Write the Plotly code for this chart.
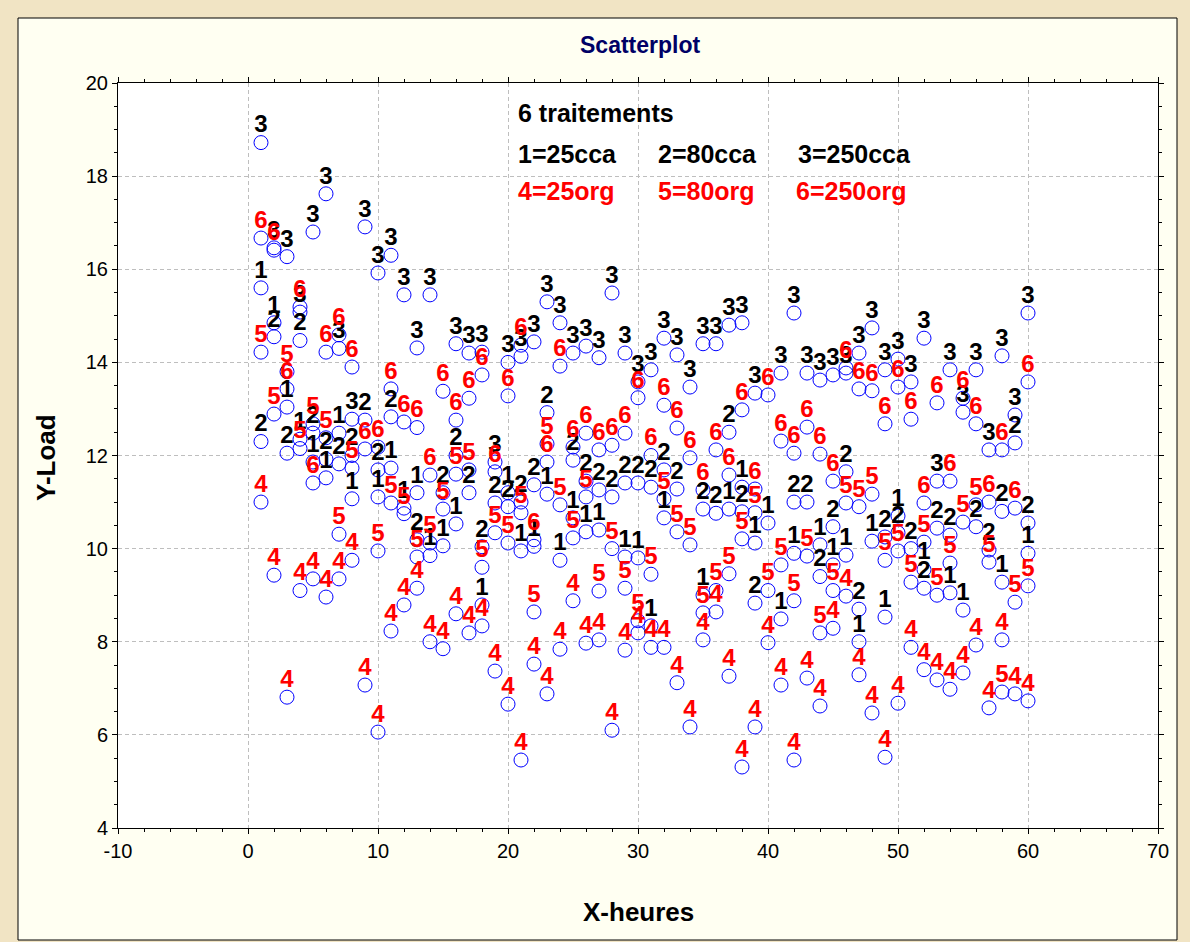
import plotly.graph_objects as go

hours = [1, 2, 3, 4, 5, 6, 7, 8, 9, 10, 11, 12, 13, 14, 15, 16, 17, 18, 19, 20,
         21, 22, 23, 24, 25, 26, 27, 28, 29, 30, 31, 32, 33, 34, 35, 36, 37, 38, 39, 40,
         41, 42, 43, 44, 45, 46, 47, 48, 49, 50, 51, 52, 53, 54, 55, 56, 57, 58, 59, 60]

t1_25cca = [15.6, 14.85, 13.04, 12.35, 11.86, 11.52, 12.48, 11.07, None, 11.11,
            11.73, 10.87, 11.2, 9.85, 10.06, 10.53, None, 8.79, None, 11.2,
            9.95, 10.05, 11.17, 9.75, 10.66, 10.36, 10.4, None, 9.82, 9.8,
            8.34, 10.66, None, None, 9.0, None, 10.85, 11.32, 10.12, 10.55,
            8.49, 9.9, None, 10.08, 9.65, 9.86, 8.0, 10.16, 8.53, 10.7,
            None, 9.55, None, 9.05, 8.68, None, None, 9.28, None, 9.9]

t2_80cca = [12.3, 14.55, 12.05, 14.47, 12.48, 11.92, 11.82, 12.0, 12.76, 11.69,
            12.83, None, 10.19, None, 11.2, 12.0, 11.2, 10.04, 10.98, 10.9,
            11.0, 11.37, 12.92, None, 11.9, 11.45, 11.26, 11.11, 11.41, 11.41,
            11.32, 11.69, 11.28, None, 10.85, 10.76, 12.5, 10.79, 8.83, None,
            None, 11.0, 11.0, 9.4, 10.47, 11.65, 8.7, None, 10.25, 10.34,
            10.0, 9.15, 10.44, 10.29, None, 10.47, 9.97, 10.8, 12.27, 10.55]

t3_250cca = [18.72, 16.46, 16.27, 15.08, 16.8, 17.62, 14.3, 12.78, 16.91, 15.92,
             16.3, 15.45, 14.31, 15.45, None, 14.4, 14.2, 14.22, 11.86, 14.0,
             14.13, 14.44, 15.3, 14.85, 14.2, 14.35, 14.1, 15.49, 14.2, 13.58,
             13.84, 14.52, 14.16, 13.47, 14.4, 14.4, 14.8, 14.85, 13.34, None,
             13.77, 15.06, 13.77, 13.62, 13.73, 13.77, 14.2, 14.74, 13.84, 14.07,
             13.58, 14.52, 11.45, 13.84, 12.93, 13.84, 12.12, 14.14, 12.87, 15.06]

t4_25org = [11.0, 9.43, 6.81, 9.1, 9.35, 8.96, 9.35, 9.75, 7.07, 6.06,
            8.23, 8.79, 9.15, 8.0, 7.85, 8.6, 8.19, 8.34, 7.37, 6.66,
            5.46, 7.52, 6.88, 7.84, 8.88, 7.97, 8.04, 6.1, 7.82, 8.19,
            7.88, 7.88, 7.12, 6.17, 8.04, 8.64, 7.26, 5.31, 6.17, 7.98,
            7.07, 5.46, 7.22, 6.62, 8.29, 8.98, 7.29, 6.47, 5.52, 6.68,
            7.88, 7.4, 7.18, 6.98, 7.33, 7.93, 6.58, 8.04, 6.88, 6.73]

t5_80org = [14.22, 12.89, 13.8, 12.15, 12.68, 12.38, 10.31, 11.73, None, 9.95,
            10.98, 10.75, 9.82, 10.12, 10.85, 11.6, 11.69, 9.6, 10.34, 10.12,
            10.77, 8.64, 12.25, 10.94, 10.23, 11.11, 9.09, 10.0, 9.15, 8.45,
            9.45, 11.07, 10.36, 10.08, 8.62, 9.1, 9.46, 10.21, 10.77, 9.1,
            9.65, 8.88, 9.84, 8.19, 9.1, 10.98, 10.9, 11.17, 9.75, 9.95,
            9.28, 10.14, 9.0, 9.69, 10.57, 10.94, 9.71, 6.92, 8.85, 9.2]

t6_250org = [16.67, 16.41, 13.43, 15.19, 11.41, 14.22, 14.59, 13.9, 12.14, 12.18,
             13.43, 12.72, 12.6, 11.58, 13.38, 12.76, 13.23, 13.73, 11.65, 13.28,
             14.37, 10.19, 11.86, 13.92, 12.18, 12.48, 12.12, 12.22, 12.48, 13.24,
             12.0, 13.08, 12.59, 11.95, 11.26, 12.12, 11.58, 12.98, 11.28, 13.3,
             12.31, 12.05, 12.61, 12.03, 11.45, 13.88, 13.43, 13.39, 12.68, 13.47,
             12.78, 10.98, 13.13, 11.45, 13.23, 12.68, 11.0, 12.12, 10.87, 13.58]

treat_codes = ["1", "2", "3", "4", "5", "6"]
treat_names = ["1=25cca", "2=80cca", "3=250cca", "4=25org", "5=80org", "6=250org"]
treat_series = [t1_25cca, t2_80cca, t3_250cca, t4_25org, t5_80org, t6_250org]
label_colors = ["#000000", "#000000", "#000000", "#FF0000", "#FF0000", "#FF0000"]

x_ticks = [-10, 0, 10, 20, 30, 40, 50, 60, 70]
y_ticks = [4, 6, 8, 10, 12, 14, 16, 18, 20]

FONT = "Arial, Liberation Sans, Helvetica, sans-serif"
BG = "#F1E4C4"

fig = go.Figure()

# circles first
for name, ys in zip(treat_names, treat_series):
    xs = [h for h, v in zip(hours, ys) if v is not None]
    yv = [v for v in ys if v is not None]
    fig.add_trace(go.Scatter(
        x=xs, y=yv, mode="markers", name=name,
        marker=dict(symbol="circle-open", size=14, color="#0000FF",
                    line=dict(width=1, color="#0000FF")),
        hoverinfo="skip", cliponaxis=False,
    ))

# treatment number labels above the circles (transparent marker only sets the gap)
for code, name, ys, col in zip(treat_codes, treat_names, treat_series, label_colors):
    xs = [h for h, v in zip(hours, ys) if v is not None]
    yv = [v for v in ys if v is not None]
    fig.add_trace(go.Scatter(
        x=xs, y=yv, mode="markers+text", name=name + " labels",
        text=[code] * len(xs), textposition="top center",
        marker=dict(size=5, color="rgba(0,0,0,0)"),
        textfont=dict(family=FONT, size=24, color=col, weight="bold"),
        hoverinfo="skip", cliponaxis=False,
    ))

# pixel helpers for the frame (plot area spans 118..1158 px horizontally, 83..828 px vertically)
def px_x(p):
    return (p - 118) / 1040.0

def px_y(p):
    return (828 - p) / 745.0

shapes = [
    dict(type="rect", xref="paper", yref="paper", layer="below",
         x0=px_x(18), x1=px_x(1177), y0=px_y(940), y1=px_y(18),
         fillcolor="#FFFFF2", line=dict(color="#000000", width=1)),
    dict(type="rect", xref="paper", yref="paper", layer="below",
         x0=0, x1=1, y0=0, y1=1, fillcolor="#FFFFFF", line=dict(width=0)),
]

annotations = [
    dict(text="<b>Scatterplot</b>", xref="paper", yref="paper", x=px_x(640), y=px_y(45),
         showarrow=False, font=dict(family=FONT, size=23, color="#000066"),
         xanchor="center", yanchor="middle"),
    dict(text="<b>X-heures</b>", xref="paper", yref="paper", x=px_x(638), y=px_y(912),
         showarrow=False, font=dict(family=FONT, size=26, color="#000000"),
         xanchor="center", yanchor="middle"),
    dict(text="<b>Y-Load</b>", xref="paper", yref="paper", x=px_x(46), y=px_y(458),
         showarrow=False, textangle=-90, font=dict(family=FONT, size=26, color="#000000"),
         xanchor="center", yanchor="middle"),
    dict(text="<b>6 traitements</b>", xref="paper", yref="paper", x=px_x(516), y=px_y(113),
         showarrow=False, font=dict(family=FONT, size=25, color="#000000"),
         xanchor="left", yanchor="middle"),
]
legend_pos = [(516, 154), (656, 154), (796, 154), (516, 191), (656, 191), (794, 191)]
for name, col, (lx, ly) in zip(treat_names, label_colors, legend_pos):
    annotations.append(dict(text="<b>" + name + "</b>", xref="paper", yref="paper",
                            x=px_x(lx), y=px_y(ly), showarrow=False,
                            font=dict(family=FONT, size=25, color=col),
                            xanchor="left", yanchor="middle"))

axis_common = dict(
    showgrid=True, gridcolor="#BEBEBE", griddash="4px,3px", gridwidth=1,
    zeroline=False, showline=True, linecolor="#000000", linewidth=1, mirror="ticks",
    ticks="outside", ticklen=5, tickcolor="#000000",
    tickfont=dict(family=FONT, size=20, color="#000000"),
    minor=dict(ticks="outside", ticklen=3, tickcolor="#000000", showgrid=False),
)

fig.update_layout(
    width=1190, height=942,
    margin=dict(l=118, r=32, t=83, b=114),
    paper_bgcolor=BG,
    plot_bgcolor="#FFFFFF",
    showlegend=False,
    shapes=shapes,
    annotations=annotations,
    xaxis=dict(range=[-10, 70], tickmode="array", tickvals=x_ticks,
               ticktext=[str(v) for v in x_ticks], **axis_common),
    yaxis=dict(range=[4, 20], tickmode="array", tickvals=y_ticks,
               ticktext=[str(v) for v in y_ticks], **axis_common),
)
fig.update_xaxes(minor=dict(tickmode="linear", tick0=0, dtick=2))
fig.update_yaxes(minor=dict(tickmode="linear", tick0=4, dtick=0.5))

fig.write_html(
    "out.html",
    config={"displayModeBar": False},
    post_script="document.body.style.margin='0';document.body.style.background='" + BG
                + "';document.body.style.overflow='hidden';",
)
